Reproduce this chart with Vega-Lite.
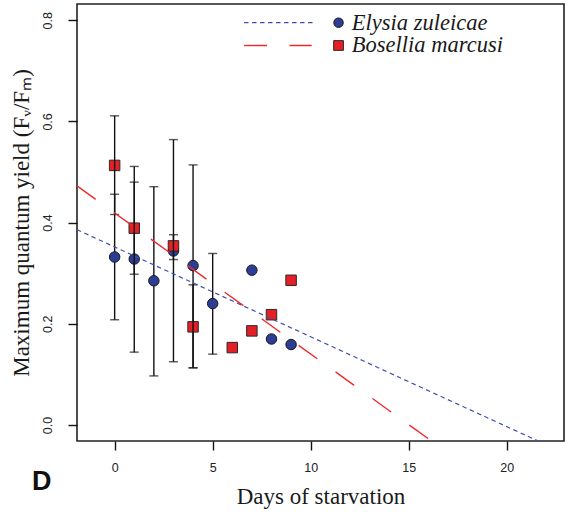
{
  "$schema": "https://vega.github.io/schema/vega-lite/v6.json",
  "autosize": "none",
  "width": 487,
  "height": 437,
  "padding": {"left": 77, "top": 4, "right": 4, "bottom": 71},
  "background": "white",
  "config": {
    "view": {"stroke": "#222222", "strokeWidth": 1.6},
    "axis": {
      "domain": false, "grid": false,
      "tickColor": "#111111", "tickSize": 9, "tickWidth": 1.4,
      "labelFont": "Liberation Sans", "labelFontSize": 12.5, "labelColor": "#222222",
      "titleFont": "Liberation Serif", "titleFontSize": 23, "titleFontWeight": "normal", "titleColor": "#1a1a1a"
    }
  },
  "title": {
    "text": "D", "orient": "bottom", "anchor": "start", "frame": "group",
    "font": "Liberation Sans", "fontSize": 27, "fontWeight": "bold", "color": "#111111",
    "dx": -45, "dy": -44
  },
  "datasets": {
    "pts": [
      {"species": "Elysia zuleicae", "day": 0, "yield": 0.332, "lo": 0.208, "hi": 0.456},
      {"species": "Elysia zuleicae", "day": 1, "yield": 0.328, "lo": 0.144, "hi": 0.511},
      {"species": "Elysia zuleicae", "day": 2, "yield": 0.285, "lo": 0.097, "hi": 0.471},
      {"species": "Elysia zuleicae", "day": 3, "yield": 0.344, "lo": 0.125, "hi": 0.564},
      {"species": "Elysia zuleicae", "day": 4, "yield": 0.315, "lo": 0.113, "hi": 0.514},
      {"species": "Elysia zuleicae", "day": 5, "yield": 0.240, "lo": 0.140, "hi": 0.339},
      {"species": "Elysia zuleicae", "day": 7, "yield": 0.306, "lo": null, "hi": null},
      {"species": "Elysia zuleicae", "day": 8, "yield": 0.170, "lo": null, "hi": null},
      {"species": "Elysia zuleicae", "day": 9, "yield": 0.159, "lo": null, "hi": null},
      {"species": "Bosellia marcusi", "day": 0, "yield": 0.513, "lo": 0.416, "hi": 0.611},
      {"species": "Bosellia marcusi", "day": 1, "yield": 0.389, "lo": 0.298, "hi": 0.480},
      {"species": "Bosellia marcusi", "day": 3, "yield": 0.354, "lo": 0.327, "hi": 0.376},
      {"species": "Bosellia marcusi", "day": 4, "yield": 0.194, "lo": 0.113, "hi": 0.277},
      {"species": "Bosellia marcusi", "day": 6, "yield": 0.153, "lo": null, "hi": null},
      {"species": "Bosellia marcusi", "day": 7, "yield": 0.186, "lo": null, "hi": null},
      {"species": "Bosellia marcusi", "day": 8, "yield": 0.218, "lo": null, "hi": null},
      {"species": "Bosellia marcusi", "day": 9, "yield": 0.286, "lo": null, "hi": null}
    ],
    "fits": [
      {"species": "Elysia zuleicae", "day": -1.92, "yield": 0.386},
      {"species": "Elysia zuleicae", "day": 22.92, "yield": -0.055},
      {"species": "Bosellia marcusi", "day": -1.92, "yield": 0.4725},
      {"species": "Bosellia marcusi", "day": 22.92, "yield": -0.22}
    ],
    "legend": [
      {"species": "Elysia zuleicae", "x1": 6.6, "x2": 10.25, "px": 11.42, "tx": 12.1, "ly": 0.795},
      {"species": "Bosellia marcusi", "x1": 6.6, "x2": 10.05, "px": 11.42, "tx": 12.1, "ly": 0.75}
    ]
  },
  "encoding": {
    "x": {"type": "quantitative"},
    "y": {"type": "quantitative"}
  },
  "layer": [
    {
      "data": {"name": "pts"},
      "transform": [{"filter": "datum.species === 'Elysia zuleicae' && datum.lo != null"}],
      "mark": {"type": "rule", "color": "#111111", "strokeWidth": 1.4},
      "encoding": {
        "x": {"field": "day", "type": "quantitative",
              "scale": {"domain": [-1.92, 22.92], "nice": false, "zero": false},
              "axis": {"values": [0, 5, 10, 15, 20], "title": "Days of starvation", "labelPadding": 11, "titlePadding": 12, "labelFlush": false}},
        "y": {"field": "lo", "type": "quantitative",
              "scale": {"domain": [-0.0316, 0.832], "nice": false, "zero": false},
              "axis": {"values": [0, 0.2, 0.4, 0.6, 0.8], "format": ".1f", "labelAngle": 270, "labelAlign": "center", "labelBaseline": "bottom", "labelPadding": 14, "title": "Maximum quantum yield (F\u1d65/F\u2098)", "titlePadding": 8, "labelFlush": false}},
        "y2": {"field": "hi"}
      }
    },
    {
      "data": {"name": "pts"},
      "transform": [{"filter": "datum.species === 'Elysia zuleicae' && datum.lo != null"}],
      "mark": {"type": "tick", "orient": "horizontal", "color": "#111111", "thickness": 1.4, "size": 9},
      "encoding": {"x": {"field": "day", "type": "quantitative"}, "y": {"field": "lo", "type": "quantitative"}}
    },
    {
      "data": {"name": "pts"},
      "transform": [{"filter": "datum.species === 'Elysia zuleicae' && datum.lo != null"}],
      "mark": {"type": "tick", "orient": "horizontal", "color": "#111111", "thickness": 1.4, "size": 9},
      "encoding": {"x": {"field": "day", "type": "quantitative"}, "y": {"field": "hi", "type": "quantitative"}}
    },
    {
      "data": {"name": "pts"},
      "transform": [{"filter": "datum.species === 'Elysia zuleicae'"}],
      "mark": {"type": "point", "shape": "circle", "filled": true, "fill": "#2d3c94", "stroke": "#1a1a1a", "strokeWidth": 1, "size": 110, "opacity": 1},
      "encoding": {"x": {"field": "day", "type": "quantitative"}, "y": {"field": "yield", "type": "quantitative"}}
    },
    {
      "data": {"name": "pts"},
      "transform": [{"filter": "datum.species === 'Bosellia marcusi'"}],
      "mark": {"type": "point", "shape": "square", "filled": true, "fill": "#e41f26", "stroke": "#2a2a2a", "strokeWidth": 1, "size": 110, "opacity": 1},
      "encoding": {"x": {"field": "day", "type": "quantitative"}, "y": {"field": "yield", "type": "quantitative"}}
    },
    {
      "data": {"name": "pts"},
      "transform": [{"filter": "datum.species === 'Bosellia marcusi' && datum.lo != null"}],
      "mark": {"type": "rule", "color": "#111111", "strokeWidth": 1.4},
      "encoding": {"x": {"field": "day", "type": "quantitative"}, "y": {"field": "lo", "type": "quantitative"}, "y2": {"field": "hi"}}
    },
    {
      "data": {"name": "pts"},
      "transform": [{"filter": "datum.species === 'Bosellia marcusi' && datum.lo != null"}],
      "mark": {"type": "tick", "orient": "horizontal", "color": "#111111", "thickness": 1.4, "size": 9},
      "encoding": {"x": {"field": "day", "type": "quantitative"}, "y": {"field": "lo", "type": "quantitative"}}
    },
    {
      "data": {"name": "pts"},
      "transform": [{"filter": "datum.species === 'Bosellia marcusi' && datum.lo != null"}],
      "mark": {"type": "tick", "orient": "horizontal", "color": "#111111", "thickness": 1.4, "size": 9},
      "encoding": {"x": {"field": "day", "type": "quantitative"}, "y": {"field": "hi", "type": "quantitative"}}
    },
    {
      "data": {"name": "fits"},
      "transform": [{"filter": "datum.species === 'Elysia zuleicae'"}],
      "mark": {"type": "line", "color": "#3f50b0", "strokeWidth": 1.2, "strokeDash": [4.5, 3.5], "clip": true},
      "encoding": {"x": {"field": "day", "type": "quantitative"}, "y": {"field": "yield", "type": "quantitative"}}
    },
    {
      "data": {"name": "fits"},
      "transform": [{"filter": "datum.species === 'Bosellia marcusi'"}],
      "mark": {"type": "line", "color": "#ec2a2e", "strokeWidth": 1.4, "strokeDash": [23, 22.5], "clip": true},
      "encoding": {"x": {"field": "day", "type": "quantitative"}, "y": {"field": "yield", "type": "quantitative"}}
    },
    {
      "data": {"name": "legend"},
      "transform": [{"filter": "datum.species === 'Elysia zuleicae'"}],
      "mark": {"type": "rule", "color": "#3f50b0", "strokeWidth": 1.2, "strokeDash": [4.5, 3.5]},
      "encoding": {"x": {"field": "x1", "type": "quantitative"}, "x2": {"field": "x2"}, "y": {"field": "ly", "type": "quantitative"}}
    },
    {
      "data": {"name": "legend"},
      "transform": [{"filter": "datum.species === 'Bosellia marcusi'"}],
      "mark": {"type": "rule", "color": "#ec2a2e", "strokeWidth": 1.4, "strokeDash": [23, 22.5]},
      "encoding": {"x": {"field": "x1", "type": "quantitative"}, "x2": {"field": "x2"}, "y": {"field": "ly", "type": "quantitative"}}
    },
    {
      "data": {"name": "legend"},
      "transform": [{"filter": "datum.species === 'Elysia zuleicae'"}],
      "mark": {"type": "point", "shape": "circle", "filled": true, "fill": "#2d3c94", "stroke": "#1a1a1a", "strokeWidth": 1, "size": 90, "opacity": 1},
      "encoding": {"x": {"field": "px", "type": "quantitative"}, "y": {"field": "ly", "type": "quantitative"}}
    },
    {
      "data": {"name": "legend"},
      "transform": [{"filter": "datum.species === 'Bosellia marcusi'"}],
      "mark": {"type": "point", "shape": "square", "filled": true, "fill": "#e41f26", "stroke": "#2a2a2a", "strokeWidth": 1, "size": 95, "opacity": 1},
      "encoding": {"x": {"field": "px", "type": "quantitative"}, "y": {"field": "ly", "type": "quantitative"}}
    },
    {
      "data": {"name": "legend"},
      "mark": {"type": "text", "align": "left", "baseline": "middle", "font": "Liberation Serif", "fontStyle": "italic", "fontSize": 22.5, "color": "#1a1a1a"},
      "encoding": {"x": {"field": "tx", "type": "quantitative"}, "y": {"field": "ly", "type": "quantitative"}, "text": {"field": "species"}}
    }
  ]
}
